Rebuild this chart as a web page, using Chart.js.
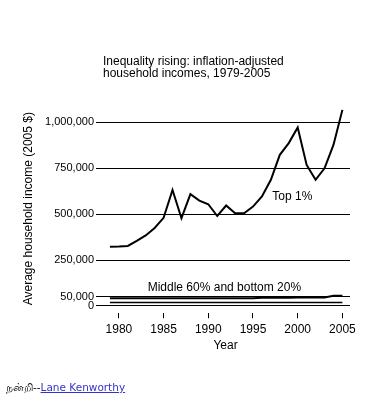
<!DOCTYPE html>
<html>
<head>
<meta charset="utf-8">
<script src="https://cdn.jsdelivr.net/npm/chart.js@4.4.1/dist/chart.umd.min.js"></script>
<style>
  html, body { margin: 0; padding: 0; background: #fff; }
  #wrap { position: relative; width: 381px; height: 408px; }
  #c { position: absolute; left: 0; top: 0; }
  #foot { position: absolute; left: 6px; top: 381px; font-family: "DejaVu Sans", Verdana, sans-serif; font-size: 10.5px; color: #000; white-space: nowrap; }
  #foot a { color: #3333cc; text-decoration: underline; }
</style>
</head>
<body>
<div id="wrap">
  <canvas id="c" width="381" height="408"></canvas>
  <div id="foot">நன்றி--<a href="#">Lane Kenworthy</a></div>
</div>
<script>
// ---- data ----
const years = [1979,1980,1981,1982,1983,1984,1985,1986,1987,1988,1989,1990,1991,1992,1993,1994,1995,1996,1997,1998,1999,2000,2001,2002,2003,2004,2005];
const top1 = [323000,324000,327000,354000,384000,425000,480000,632000,478000,609000,574000,554000,490000,547000,505000,505000,541000,596000,687000,823000,887000,972000,768000,687000,750000,877000,1068000];
const middle60 = [42000,42000,42000,42000,42000,42000,42000,42000,42000,42000,42000,42000,42000,42000,42000,42000,42000,45000,45000,45000,45000,46000,46000,46000,46000,55000,55000];
const bottom20 = [19000,19000,19000,19000,19000,19000,19000,19000,19000,19000,19000,19000,19000,19000,19000,19000,19000,19000,19000,19000,19000,19000,19000,19000,19000,19000,19000];
const xTicks = [1980,1985,1990,1995,2000,2005];
const yTicks = [0,50000,250000,500000,750000,1000000];
const titleLines = ['Inequality rising: inflation-adjusted', 'household incomes, 1979-2005'];
const yAxisTitle = 'Average household income (2005 $)';
const xAxisTitle = 'Year';
const seriesLabels = ['Top 1%', 'Middle 60%', 'Bottom 20%'];
const noteTexts = ['Top 1%', 'Middle 60% and bottom 20%'];
const noteYears = [1999.4, 1991.8];
const noteValues = [594000, 98000];

const FONT = '"Liberation Sans", Arial, sans-serif';
Chart.defaults.font.family = FONT;
Chart.defaults.color = '#000';

const toPts = arr => arr.map((v, i) => ({x: years[i], y: v}));

const textPlugin = {
  id: 'texts',
  afterDraw(chart) {
    const ctx = chart.ctx;
    const xs = chart.scales.x, ys = chart.scales.y;
    ctx.save();
    ctx.fillStyle = '#000';
    ctx.font = '12px ' + FONT;
    ctx.textAlign = 'left';
    ctx.textBaseline = 'middle';
    titleLines.forEach((t, i) => ctx.fillText(t, 103, 62 + i * 11.5));
    ctx.textAlign = 'center';
    noteTexts.forEach((t, i) => {
      ctx.fillText(t, xs.getPixelForValue(noteYears[i]), ys.getPixelForValue(noteValues[i]));
    });
    ctx.restore();
  }
};

new Chart(document.getElementById('c'), {
  type: 'line',
  data: {
    datasets: [
      { label: seriesLabels[0], data: toPts(top1), borderColor: '#000', borderWidth: 2, pointRadius: 0, tension: 0, fill: false },
      { label: seriesLabels[1], data: toPts(middle60), borderColor: '#000', borderWidth: 2, pointRadius: 0, tension: 0, fill: false },
      { label: seriesLabels[2], data: toPts(bottom20), borderColor: '#000', borderWidth: 1.5, pointRadius: 0, tension: 0, fill: false }
    ]
  },
  options: {
    responsive: false,
    animation: false,
    layout: { padding: { top: 104, right: 31, bottom: 54.7, left: 0 } },
    plugins: { legend: { display: false }, title: { display: false }, tooltip: { enabled: false } },
    scales: {
      x: {
        type: 'linear',
        min: 1978,
        max: 2005.85,
        afterBuildTicks: s => { s.ticks = xTicks.map(v => ({value: v})); },
        afterFit: s => { s.height = 40; },
        grid: { drawOnChartArea: false, drawTicks: true, tickLength: 5, tickColor: '#000', tickWidth: 1 },
        border: { display: false },
        ticks: { autoSkip: false, maxRotation: 0, padding: 4, font: { size: 12 }, callback: v => String(v) },
        title: { display: true, text: xAxisTitle, font: { size: 12 }, padding: { top: 0, bottom: 0 } }
      },
      y: {
        type: 'linear',
        min: -40000,
        max: 1100000,
        afterBuildTicks: s => { s.ticks = yTicks.map(v => ({value: v})); },
        afterFit: s => { s.width = 101; },
        grid: { color: '#000', lineWidth: 1, drawTicks: true, tickLength: 5, tickColor: '#000' },
        border: { display: false },
        ticks: { autoSkip: false, padding: 2, font: { size: 11 }, callback: v => Number(v).toLocaleString('en-US') },
        title: { display: true, text: yAxisTitle, font: { size: 12 }, padding: { top: 21, bottom: 0 } }
      }
    }
  },
  plugins: [textPlugin]
});
</script>
</body>
</html>
